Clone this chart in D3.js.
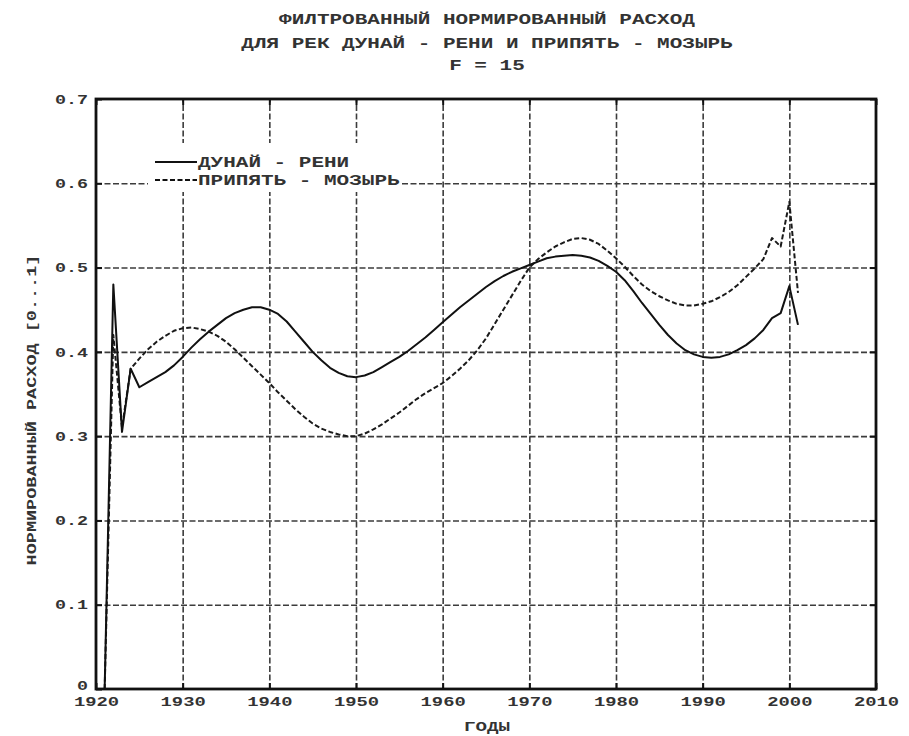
<!DOCTYPE html>
<html>
<head>
<meta charset="utf-8">
<script src="https://cdn.jsdelivr.net/npm/d3@7"></script>
<style>
  body { margin: 0; background: #fff; }
  text { font-family: "Liberation Mono", "DejaVu Sans Mono", monospace; font-weight: bold; fill: #333; }
</style>
</head>
<body>
<svg id="chart" width="909" height="736"></svg>
<script>
// Texts
const titleLines = [
  "ФИЛТРОВАННЫЙ НОРМИРОВАННЫЙ РАСХОД",
  "ДЛЯ РЕК ДУНАЙ - РЕНИ И ПРИПЯТЬ - МОЗЫРЬ",
  "F = 15"
];
const xLabel = "ГОДЫ";
const yLabel = "НОРМИРОВАННЫЙ РАСХОД [0...1]";
const seriesNames = ["ДУНАЙ - РЕНИ", "ПРИПЯТЬ - МОЗЫРЬ"];

// Years 1921..2001
const years = d3.range(1921, 2002);

// Filtered normalised discharge, Danube at Reni
const danube = [
  0, 0.48, 0.305, 0.38, 0.358, 0.364, 0.37, 0.376, 0.384, 0.394,
  0.405, 0.415, 0.424, 0.432, 0.44, 0.446, 0.45, 0.453, 0.453, 0.45,
  0.445, 0.436, 0.424, 0.412, 0.4, 0.39, 0.381, 0.375, 0.371, 0.37,
  0.372, 0.376, 0.382, 0.388, 0.394, 0.401, 0.409, 0.417, 0.426, 0.435,
  0.444, 0.453, 0.461, 0.469, 0.477, 0.484, 0.49, 0.495, 0.499, 0.503,
  0.507, 0.511, 0.513, 0.514, 0.515, 0.514, 0.512, 0.508, 0.502, 0.495,
  0.485, 0.472, 0.458, 0.445, 0.432, 0.42, 0.41, 0.402, 0.397, 0.394,
  0.393, 0.394, 0.397, 0.402, 0.408, 0.416, 0.426, 0.44, 0.446, 0.478,
  0.432
];

// Filtered normalised discharge, Pripyat at Mozyr
const pripyat = [
  0, 0.42, 0.31, 0.38, 0.392, 0.403, 0.412, 0.419, 0.425, 0.428,
  0.429, 0.427, 0.424, 0.419, 0.412, 0.403, 0.393, 0.383, 0.373, 0.363,
  0.352, 0.342, 0.332, 0.323, 0.315, 0.309, 0.305, 0.302, 0.3, 0.3,
  0.303, 0.308, 0.314, 0.321, 0.328, 0.336, 0.344, 0.351, 0.357, 0.363,
  0.371, 0.38, 0.39, 0.402, 0.416, 0.433, 0.45, 0.467, 0.484, 0.5,
  0.51, 0.518, 0.525, 0.53, 0.534, 0.535, 0.533, 0.528, 0.52, 0.511,
  0.501, 0.49, 0.48, 0.472, 0.466, 0.461, 0.457, 0.455, 0.455, 0.457,
  0.46, 0.465, 0.471, 0.479, 0.489, 0.499, 0.51, 0.535, 0.525, 0.578,
  0.47
];

// Axis ticks
const xTicks = [1920, 1930, 1940, 1950, 1960, 1970, 1980, 1990, 2000, 2010];
const yTicks = [0, 0.1, 0.2, 0.3, 0.4, 0.5, 0.6, 0.7];
const yTickLabels = ["0", "0.1", "0.2", "0.3", "0.4", "0.5", "0.6", "0.7"];

const svg = d3.select("#chart");
const W = 909, H = 736;
const plot = { left: 96, right: 876, top: 99, bottom: 689 };

svg.append("rect").attr("width", W).attr("height", H).attr("fill", "#fff");

const x = d3.scaleLinear().domain([1920, 2010]).range([plot.left, plot.right]);
const y = d3.scaleLinear().domain([0, 0.7]).range([plot.bottom, plot.top]);

// stretched monospace text helper
function wide(sel, charW) {
  sel.attr("textLength", function () { return this.textContent.length * charW; })
     .attr("lengthAdjust", "spacingAndGlyphs");
}

// Grid
const gridColor = "#3c3c3c";
const gx = svg.append("g").attr("transform", `translate(0,${plot.bottom})`)
  .call(d3.axisBottom(x).tickValues(xTicks.slice(1, -1)).tickSize(-(plot.bottom - plot.top)).tickFormat(""));
const gy = svg.append("g").attr("transform", `translate(${plot.left},0)`)
  .call(d3.axisLeft(y).tickValues(yTicks.slice(1, -1)).tickSize(-(plot.right - plot.left)).tickFormat(""));
[gx, gy].forEach(g => {
  g.select(".domain").remove();
  g.selectAll("line").attr("stroke", gridColor).attr("stroke-width", 1.6).attr("stroke-dasharray", "6,2.5");
});

// Legend background
const legend = svg.append("g");
legend.append("rect").attr("x", 148).attr("y", 143).attr("width", 254).attr("height", 49).attr("fill", "#fff");

// Series lines
const line = d3.line().x((d, i) => x(years[i])).y(d => y(d));
svg.append("path").datum(pripyat).attr("d", line)
  .attr("fill", "none").attr("stroke", "#1a1a1a").attr("stroke-width", 2)
  .attr("stroke-dasharray", "5,2.5").attr("stroke-linejoin", "round");
svg.append("path").datum(danube).attr("d", line)
  .attr("fill", "none").attr("stroke", "#111").attr("stroke-width", 2)
  .attr("stroke-linejoin", "round");

// Axes with inward ticks
const tickLen = 6;
const ax = svg.append("g").attr("transform", `translate(0,${plot.bottom})`)
  .call(d3.axisBottom(x).tickValues(xTicks).tickSizeInner(-tickLen).tickSizeOuter(0).tickPadding(8).tickFormat(d3.format("d")));
const ay = svg.append("g").attr("transform", `translate(${plot.left},0)`)
  .call(d3.axisLeft(y).tickValues(yTicks).tickSizeInner(-tickLen).tickSizeOuter(0).tickPadding(8)
    .tickFormat((d, i) => yTickLabels[i]));
const at = svg.append("g").attr("transform", `translate(0,${plot.top})`)
  .call(d3.axisTop(x).tickValues(xTicks).tickSizeInner(-tickLen).tickSizeOuter(0).tickFormat(""));
const ar = svg.append("g").attr("transform", `translate(${plot.right},0)`)
  .call(d3.axisRight(y).tickValues(yTicks).tickSizeInner(-tickLen).tickSizeOuter(0).tickFormat(""));
[ax, ay, at, ar].forEach(g => {
  g.select(".domain").remove();
  g.selectAll("line").attr("stroke", "#111").attr("stroke-width", 2);
  g.selectAll("text").attr("font-size", 13).attr("fill", "#333")
    .style("font-family", '"Liberation Mono", monospace').style("font-weight", "bold");
});
wide(ax.selectAll("text"), 11.3);
wide(ay.selectAll("text"), 11);
ay.selectAll("text").filter(d => d === 0).attr("dy", "0.05em");

// Frame
svg.append("rect")
  .attr("x", plot.left).attr("y", plot.top)
  .attr("width", plot.right - plot.left).attr("height", plot.bottom - plot.top)
  .attr("fill", "none").attr("stroke", "#111").attr("stroke-width", 2.8);

// Title
const titleY = [24, 48, 70];
titleLines.forEach((t, i) => {
  svg.append("text").attr("x", 487).attr("y", titleY[i]).attr("text-anchor", "middle")
    .attr("font-size", 14).text(t).call(wide, 12.6);
});

// Axis titles
svg.append("text").attr("x", 487).attr("y", 731).attr("text-anchor", "middle")
  .attr("font-size", 13).text(xLabel).call(wide, 11.5);
svg.append("text").attr("transform", "translate(36,410) rotate(-90)").attr("text-anchor", "middle")
  .attr("font-size", 13).text(yLabel).call(wide, 11.1);

// Legend entries
const legendRows = [162, 180];
seriesNames.forEach((name, i) => {
  const ly = legendRows[i];
  legend.append("line").attr("x1", 155).attr("x2", 197).attr("y1", ly).attr("y2", ly)
    .attr("stroke", "#111").attr("stroke-width", 2)
    .attr("stroke-dasharray", i === 1 ? "5,2.5" : null);
  legend.append("text").attr("x", 198).attr("y", ly + 5).attr("font-size", 14)
    .text(name).call(wide, 12.6);
});
</script>
</body>
</html>
